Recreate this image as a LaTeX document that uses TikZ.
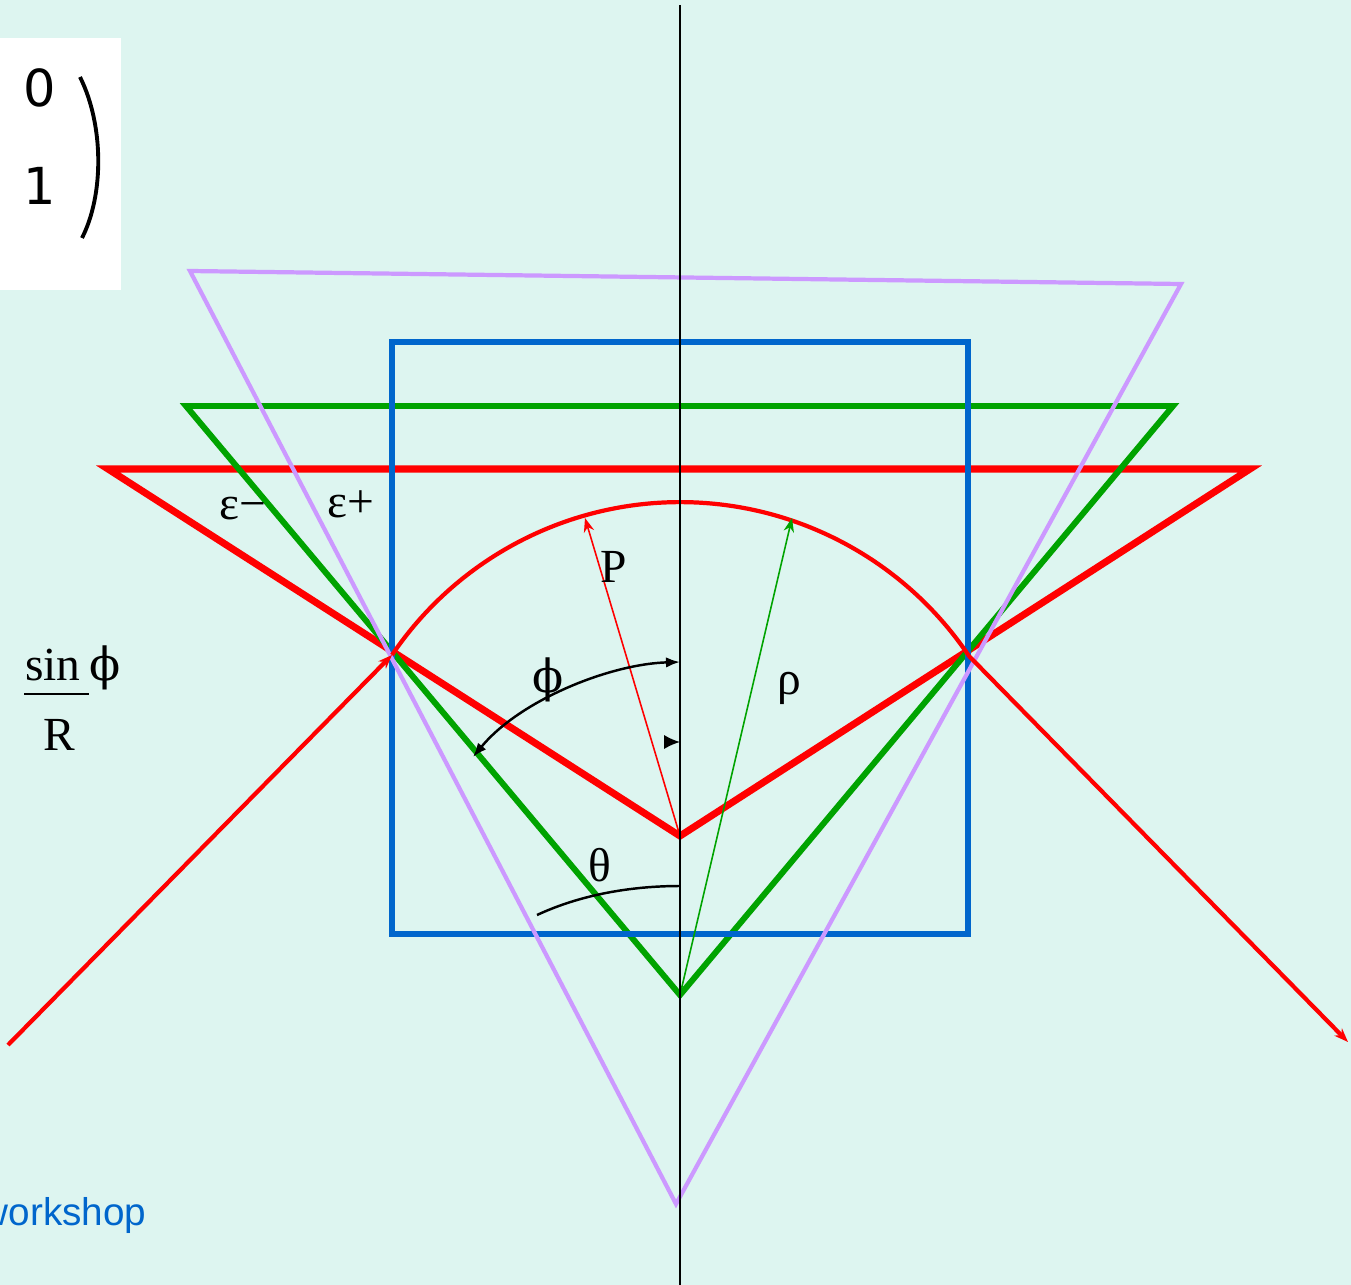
\documentclass[tikz,border=0pt]{standalone}
\usepackage{fontspec}
\setmainfont{Liberation Serif}
\newfontfamily\wsfont{Liberation Sans}
\newfontfamily\digitfont{DejaVu Sans}
\newfontfamily\phifont{DejaVu Serif}
\usetikzlibrary{arrows.meta, calc}
\definecolor{bgcyan}{HTML}{DDF5F0}
\definecolor{ray}{HTML}{FF0000}
\definecolor{cone}{HTML}{00A300}
\definecolor{box}{HTML}{0066CC}
\definecolor{lilac}{HTML}{CC99FF}

\begin{document}
\begin{tikzpicture}[x=0.01cm, y=-0.01cm,
  lbl/.style={font=\fontsize{13.5}{16}\selectfont, inner sep=0pt, anchor=base},
  arrow/.style={-{Stealth[length=4pt,width=3pt]}},
  tri/.style={line join=miter}
]
  \useasboundingbox (0,0) rectangle (1351,1285);
  \fill[bgcyan] (0,0) rectangle (1351,1285);
  \clip (0,0) rectangle (1351,1285);

  % matrix corner
  \fill[white] (0,38) rectangle (121,290);
  \node[inner sep=0pt, anchor=base, font=\digitfont\fontsize{14.5}{16}\selectfont] (zero) at (40,107) {0};
  \node[inner sep=0pt, anchor=base, font=\digitfont\fontsize{14.5}{16}\selectfont] (one) at (40,205) {1};
  \draw[line width=1.1pt] (80,77) .. controls (104,125) and (104,195) .. (82,238);

  % points
  \coordinate (rc) at (680,836);
  \coordinate (gc) at (680,995);
  \coordinate (arcL) at (392,655);
  \coordinate (arcR) at (968,655);
  \coordinate (inL) at (8,1045);
  \coordinate (outR) at (1348,1042);

  % shapes
  \draw[ray, line width=2pt, tri] (108,469) -- (1250,469) -- (rc) -- cycle;
  \draw[cone, line width=1.7pt, tri] (186,406) -- (1173,406) -- (gc) -- cycle;
  \draw[box, line width=1.7pt] (392,342) rectangle (968,934);
  \draw[lilac, line width=1.2pt, tri] (190,271) -- (1181,284) -- (676,1204) -- cycle;

  % rays and arc
  \draw[ray, line width=1.2pt, arrow] (inL) -- (arcL);
  \draw[ray, line width=1.2pt] (arcL) arc[start angle=-145.9, end angle=-34.1, radius=348];
  \draw[ray, line width=1.2pt, arrow] (arcR) -- (outR);
  \draw[ray, line width=0.45pt, arrow] (rc) -- (585,518);
  \draw[cone, line width=0.45pt, arrow] (gc) -- (792,518);

  % axis
  \draw[line width=0.45pt] (680,5) -- (680,1285);

  % angles
  \draw[line width=0.7pt, {Latex[length=4pt,width=3pt]}-{Latex[length=4pt,width=3pt]}]
    (473,757) .. controls (520,700) and (610,664) .. (680,662);
  \draw[line width=0.5pt, -{Latex[length=4.5pt,width=4pt]}] (664,742) -- (680,742);
  \draw[line width=0.7pt] (680,886) .. controls (630,886) and (580,895) .. (537,915);

  % labels
  \node[lbl] (epsm) at (243,519) {ε−};
  \node[lbl] (epsp) at (351,518) {ε+};
  \node[lbl] (plbl) at (614,582) {P};
  \node[lbl, font=\phifont\fontsize{13}{16}\selectfont] (philbl) at (548,692) {ϕ};
  \node[lbl] (rholbl) at (789,694) {ρ};
  \node[lbl] (thlbl) at (600,881) {θ};
  \node[lbl] (sinlbl) at (53,680) {sin};
  \node[lbl, font=\phifont\fontsize{13}{16}\selectfont] (sinphi) at (105,680) {ϕ};
  \draw[line width=0.5pt] (24,694) -- (89,694);
  \node[lbl] (rlbl) at (59,750) {R};
  \node[inner sep=0pt, anchor=base east, text=box, font=\wsfont\fontsize{11}{13}\selectfont] (ws) at (147,1225) {workshop};
\end{tikzpicture}
\end{document}
